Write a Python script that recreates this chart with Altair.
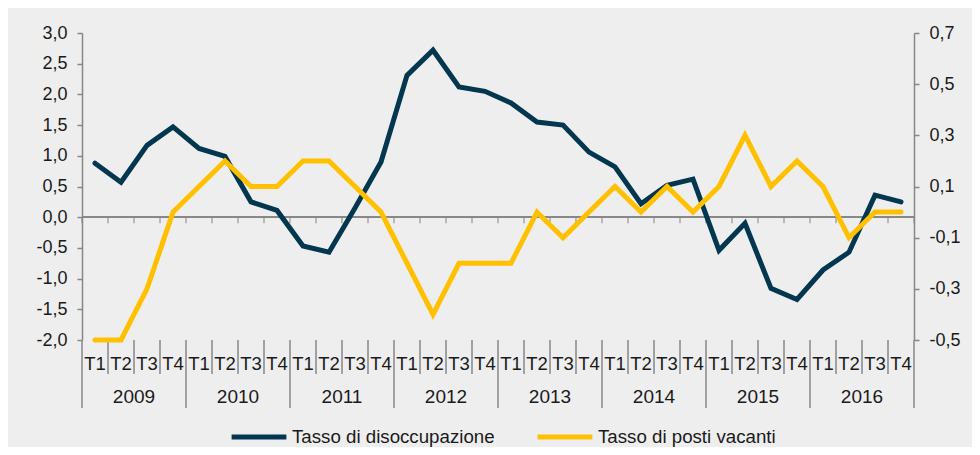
import altair as alt
import pandas as pd

# ---- data ----
years = ["2009", "2010", "2011", "2012", "2013", "2014", "2015", "2016"]
quarters = ["T1", "T2", "T3", "T4"]
unemp = [0.88, 0.57, 1.17, 1.47,
         1.12, 0.99, 0.25, 0.11,
         -0.47, -0.57, 0.15, 0.90,
         2.31, 2.72, 2.12, 2.05,
         1.86, 1.55, 1.50, 1.06,
         0.82, 0.22, 0.52, 0.62,
         -0.54, -0.10, -1.16, -1.34,
         -0.86, -0.57, 0.36, 0.25]
vac = [-0.5, -0.5, -0.3, 0.0,
       0.1, 0.2, 0.1, 0.1,
       0.2, 0.2, 0.1, 0.0,
       -0.2, -0.4, -0.2, -0.2,
       -0.2, 0.0, -0.1, 0.0,
       0.1, 0.0, 0.1, 0.0,
       0.1, 0.3, 0.1, 0.2,
       0.1, -0.1, 0.0, 0.0]
series_names = ["Tasso di disoccupazione", "Tasso di posti vacanti"]
left_ticks = [-2.0, -1.5, -1.0, -0.5, 0.0, 0.5, 1.0, 1.5, 2.0, 2.5, 3.0]
right_ticks = [-0.5, -0.3, -0.1, 0.1, 0.3, 0.5, 0.7]
left_domain = [-2.0, 3.0]
right_domain = [-0.5, 0.7]

# ---- styling ----
DARK = "#03364F"
GOLD = "#FFC000"
GRAY = "#878787"
TXT = "#1a1a1a"
FONT = "Liberation Sans"
W, H = 832, 307

n = len(years) * len(quarters)
quarter_labels = [q for y in years for q in quarters]
positions = [i + 0.5 for i in range(n)]
df = pd.DataFrame({"pos": positions, "quarter": quarter_labels})
unemp_df = pd.DataFrame({"pos": positions, "value": unemp, "series": series_names[0]})
vac_df = pd.DataFrame({"pos": positions, "value": vac, "series": series_names[1]})
years_df = pd.DataFrame({"year": years,
                         "pos": [len(quarters) * k + len(quarters) / 2 for k in range(len(years))]})
bounds = list(range(n + 1))
bounds_df = pd.DataFrame({"b": bounds})
year_bounds_df = pd.DataFrame({"b": [b for b in bounds if b % len(quarters) == 0]})
q_bounds_df = pd.DataFrame({"b": [b for b in bounds if b % len(quarters) != 0]})

xscale = alt.Scale(domain=[0, n], nice=False, zero=False)
lscale = alt.Scale(domain=left_domain, nice=False, zero=False)
rscale = alt.Scale(domain=right_domain, nice=False, zero=False)

lab = "(datum.value < 0 ? '-' : '') + replace(format(abs(datum.value), '.1f'), '.', ',')"
left_axis = alt.Axis(values=left_ticks, labelExpr=lab, tickSize=5, labelPadding=10,
                     domainColor=GRAY, tickColor=GRAY, domainWidth=1.5, tickWidth=1.5,
                     grid=False, labelFont=FONT, labelFontSize=18, labelColor=TXT, title=None)
right_axis = alt.Axis(values=right_ticks, labelExpr=lab, orient="right", tickSize=5, labelPadding=10,
                      domainColor=GRAY, tickColor=GRAY, domainWidth=1.5, tickWidth=1.5,
                      grid=False, labelFont=FONT, labelFontSize=18, labelColor=TXT, title=None)

color_scale = alt.Scale(domain=series_names, range=[DARK, GOLD])
legend = alt.Legend(orient="none", legendX=147, legendY=374, direction="horizontal",
                    title=None, symbolType="stroke", symbolStrokeWidth=5, symbolSize=3000,
                    labelFont=FONT, labelFontSize=18.7, labelColor=TXT, labelOffset=3,
                    columnPadding=32, labelLimit=400)

zero_rule = alt.Chart(df).mark_rule(color=GRAY, strokeWidth=1.5).encode(
    y=alt.YDatum(0, scale=lscale, axis=left_axis)
)
zero_ticks = alt.Chart(bounds_df).mark_tick(orient="vertical", size=6, thickness=1.5,
                                            yOffset=3, color=GRAY).encode(
    x=alt.X("b:Q", scale=xscale, axis=None),
    y=alt.YDatum(0, scale=lscale, axis=left_axis),
)
q_seps = alt.Chart(q_bounds_df).mark_rule(color=GRAY, strokeWidth=1.5).encode(
    x=alt.X("b:Q", scale=xscale, axis=None),
    y=alt.value(H), y2=alt.value(H + 34),
)
y_seps = alt.Chart(year_bounds_df).mark_rule(color=GRAY, strokeWidth=1.5).encode(
    x=alt.X("b:Q", scale=xscale, axis=None),
    y=alt.value(H), y2=alt.value(H + 68),
)
q_text = alt.Chart(df).mark_text(font=FONT, fontSize=18.5, color=TXT, baseline="middle").encode(
    x=alt.X("pos:Q", scale=xscale, axis=None),
    y=alt.value(H + 24),
    text="quarter:N",
)
y_text = alt.Chart(years_df).mark_text(font=FONT, fontSize=19, color=TXT, baseline="middle").encode(
    x=alt.X("pos:Q", scale=xscale, axis=None),
    y=alt.value(H + 57),
    text="year:N",
)
dark_line = alt.Chart(unemp_df).mark_line(strokeWidth=5, strokeCap="round").encode(
    x=alt.X("pos:Q", scale=xscale, axis=None),
    y=alt.Y("value:Q", scale=lscale, axis=left_axis),
    color=alt.Color("series:N", scale=color_scale, legend=legend),
)
gold_line = alt.Chart(vac_df).mark_line(strokeWidth=5, strokeCap="round").encode(
    x=alt.X("pos:Q", scale=xscale, axis=None),
    y=alt.Y("value:Q", scale=rscale, axis=right_axis),
    color=alt.Color("series:N", scale=color_scale, legend=legend),
)

left_group = alt.layer(zero_rule, zero_ticks, q_seps, y_seps, q_text, y_text, dark_line)
chart = alt.layer(left_group, gold_line).resolve_scale(y="independent").properties(
    width=W, height=H,
    autosize=alt.AutoSizeParams(type="none"),
    padding={"left": 74, "top": 25, "right": 58, "bottom": 107},
    background="#EEEEEE",
).configure_view(stroke=None)

chart.save("out.html", embed_options={"renderer": "svg", "actions": False})
